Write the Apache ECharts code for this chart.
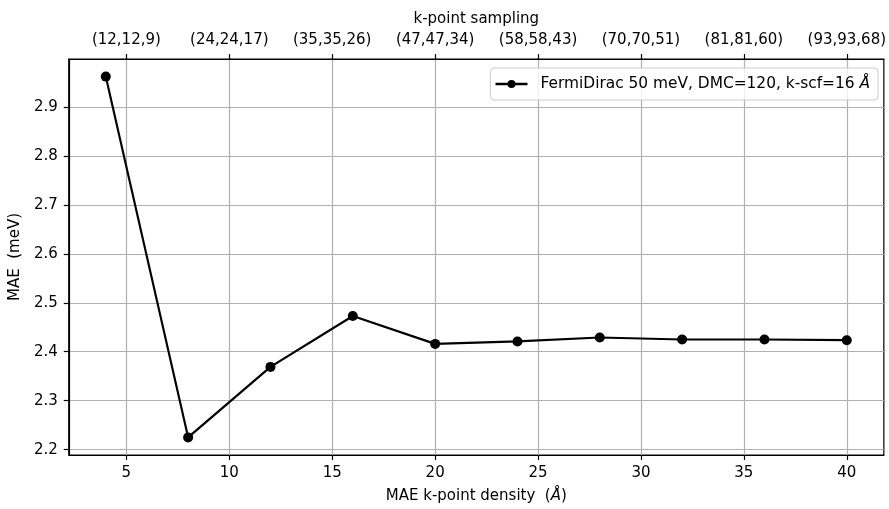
<!DOCTYPE html>
<html>
<head>
<meta charset="utf-8">
<script src="https://cdn.jsdelivr.net/npm/echarts@6/dist/echarts.min.js"></script>
<style>html,body{margin:0;padding:0;background:#fff}#c{width:889px;height:509px}</style>
</head>
<body>
<div id="c"></div>
<script>
const kDensity = [4, 8, 12, 16, 20, 24, 28, 32, 36, 40];
const mae = [2.962, 2.225, 2.369, 2.473, 2.416, 2.421, 2.429, 2.425, 2.425, 2.4235];
const xTicks = [5, 10, 15, 20, 25, 30, 35, 40];
const topTickLabels = ['(12,12,9)', '(24,24,17)', '(35,35,26)', '(47,47,34)', '(58,58,43)', '(70,70,51)', '(81,81,60)', '(93,93,68)'];
const yTicks = [2.2, 2.3, 2.4, 2.5, 2.6, 2.7, 2.8, 2.9];
const seriesName = 'FermiDirac 50 meV, DMC=120, k-scf=16 Å';

const FONT = 'DejaVu Sans';
const chart = echarts.init(document.getElementById('c'), null, {renderer: 'canvas'});
const gridLine = {show: true, lineStyle: {color: '#b0b0b0', width: 1.2}};
chart.setOption({
  animation: false,
  backgroundColor: '#fff',
  grid: {left: 68, right: 3, top: 59, bottom: 51, show: true, borderColor: '#000', borderWidth: 1.2, backgroundColor: 'transparent'},
  legend: {
    right: 11, top: 68,
    data: [seriesName],
    itemWidth: 32, itemHeight: 10,
    padding: [7, 8, 7, 4],
    backgroundColor: 'rgba(255,255,255,0.8)',
    borderColor: '#cccccc', borderWidth: 1, borderRadius: 4,
    lineStyle: {width: 2.3},
    formatter: () => '{n|FermiDirac 50 meV, DMC=120, k-scf=16 }{i|Å}',
    textStyle: {
      fontFamily: FONT, fontSize: 15.4, color: '#000', padding: [0, 0, 0, 8], lineHeight: 18,
      rich: {n: {fontFamily: FONT, fontSize: 15.4, color: '#000', lineHeight: 18}, i: {fontFamily: FONT, fontSize: 15.4, fontStyle: 'italic', color: '#000', lineHeight: 18}}
    }
  },
  xAxis: [
    {
      type: 'value', position: 'bottom', min: 2.2, max: 41.8,
      name: '{n|MAE k-point density  (}{i|Å}{n|)}', nameLocation: 'middle', nameGap: 34,
      nameTextStyle: {fontFamily: FONT, fontSize: 15, color: '#000',
        rich: {n: {fontFamily: FONT, fontSize: 15, color: '#000'}, i: {fontFamily: FONT, fontSize: 15, fontStyle: 'italic', color: '#000'}}},
      axisLine: {show: true, lineStyle: {color: '#000', width: 1.2}},
      axisTick: {show: true, inside: false, length: 5, customValues: xTicks, lineStyle: {color: '#000', width: 1.2}},
      axisLabel: {customValues: xTicks, margin: 11, fontFamily: FONT, fontSize: 15, color: '#000', formatter: v => String(v)},
      splitLine: Object.assign({customValues: xTicks}, gridLine)
    },
    {
      type: 'value', position: 'top', min: 2.2, max: 41.8,
      name: 'k-point sampling', nameLocation: 'middle', nameGap: 32,
      nameTextStyle: {fontFamily: FONT, fontSize: 15, color: '#000'},
      axisLine: {show: true, lineStyle: {color: '#000', width: 1.2}},
      axisTick: {show: true, inside: false, length: 5, customValues: xTicks, lineStyle: {color: '#000', width: 1.2}},
      axisLabel: {customValues: xTicks, margin: 11, fontFamily: FONT, fontSize: 15, color: '#000',
        formatter: v => { const i = xTicks.indexOf(Math.round(v)); return i >= 0 ? topTickLabels[i] : ''; }},
      splitLine: {show: false}
    }
  ],
  yAxis: {
    type: 'value', min: 2.189, max: 2.998,
    name: 'MAE  (meV)', nameLocation: 'middle', nameGap: 45,
    nameTextStyle: {fontFamily: FONT, fontSize: 15, color: '#000'},
    axisLine: {show: true, lineStyle: {color: '#000', width: 1.2}},
    axisTick: {show: true, inside: false, length: 5, customValues: yTicks, lineStyle: {color: '#000', width: 1.2}},
    axisLabel: {customValues: yTicks, margin: 11, fontFamily: FONT, fontSize: 15, color: '#000', formatter: v => v.toFixed(1)},
    splitLine: Object.assign({customValues: yTicks}, gridLine)
  },
  series: [{
    name: seriesName, type: 'line', xAxisIndex: 0,
    data: kDensity.map((k, i) => [k, mae[i]]),
    symbol: 'circle', symbolSize: 10,
    lineStyle: {color: '#000', width: 2.2},
    itemStyle: {color: '#000'},
    z: 3
  }]
});
</script>
</body>
</html>
